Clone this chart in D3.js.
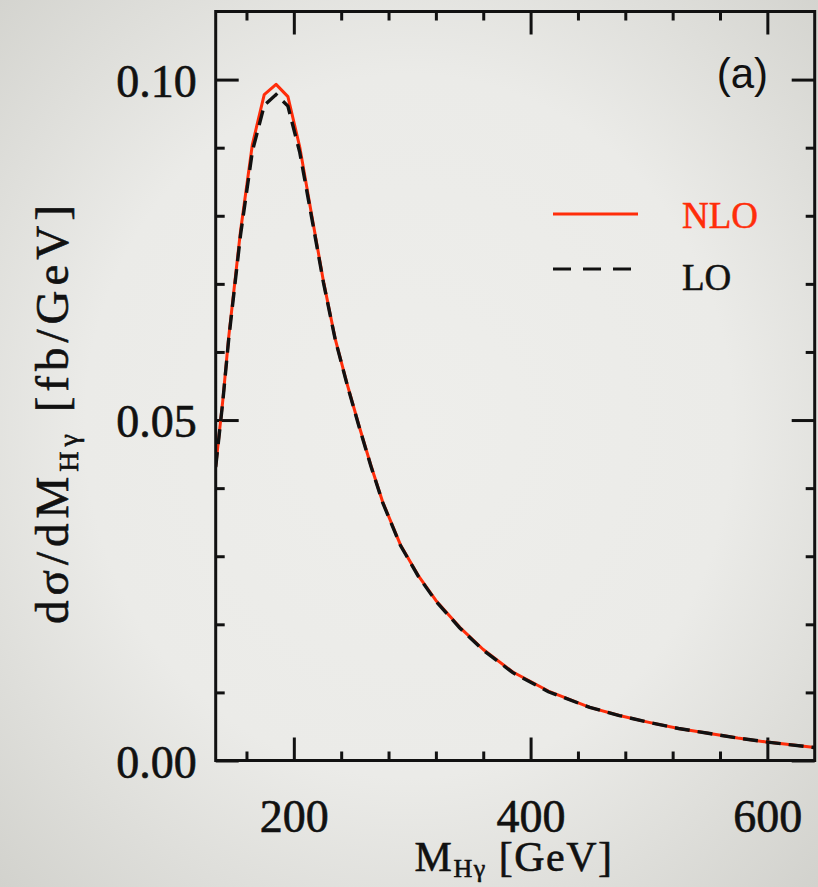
<!DOCTYPE html>
<html>
<head>
<meta charset="utf-8">
<script src="https://cdn.jsdelivr.net/npm/d3@7"></script>
<style>
  html, body { margin: 0; padding: 0; background: #e8e8e5; }
  svg { display: block; }
</style>
</head>
<body>
<svg id="chart" width="818" height="887"></svg>
<script>
// Invariant-mass distribution of the Higgs-photon system, NLO vs LO
const massGeV = [134, 140, 145, 155, 165, 175, 185, 195, 205, 215, 225, 235, 245, 255, 265, 275,
                 290, 305, 320, 340, 360, 385, 415, 450, 475, 500, 525, 550, 575, 600, 620, 640];
const nloXsec = [0.0432, 0.0529, 0.0622, 0.0778, 0.0905, 0.0978, 0.0993, 0.0975, 0.0901, 0.0802,
                 0.0704, 0.0619, 0.0553, 0.0492, 0.0434, 0.0380, 0.0317, 0.0272, 0.0235, 0.0196,
                 0.0163, 0.0130, 0.0102, 0.0078, 0.0066, 0.0056, 0.0047, 0.0040, 0.0033, 0.0027,
                 0.0023, 0.0019];
const loXsec  = [0.0431, 0.0527, 0.0619, 0.0772, 0.0895, 0.0962, 0.0978, 0.0961, 0.0893, 0.0798,
                 0.0702, 0.0618, 0.0552, 0.0491, 0.0433, 0.0379, 0.0316, 0.0271, 0.0234, 0.0195,
                 0.0162, 0.0129, 0.0101, 0.0078, 0.0066, 0.0056, 0.0047, 0.0040, 0.0033, 0.0027,
                 0.0023, 0.0019];
const xTickLabels = [200, 400, 600];
const yTickLabels = [0.00, 0.05, 0.10];
const seriesNames = ["NLO", "LO"];

const RED = "#ff2d0a";
const INK = "#111";

const svg = d3.select("#chart");

// paper background with a soft vignette
const defs = svg.append("defs");
const grad = defs.append("radialGradient").attr("id", "paper")
  .attr("cx", "50%").attr("cy", "48%").attr("r", "72%");
grad.append("stop").attr("offset", "0%").attr("stop-color", "#eeeeeb");
grad.append("stop").attr("offset", "55%").attr("stop-color", "#ebebe8");
grad.append("stop").attr("offset", "100%").attr("stop-color", "#d2d2cd");
svg.append("rect").attr("width", 818).attr("height", 887).attr("fill", "url(#paper)");

const frame = { left: 215.7, right: 814.7, top: 11.5, bottom: 760.5 };

const x = d3.scaleLinear().domain([134, 640]).range([frame.left, frame.right]);
const y = d3.scaleLinear().domain([0, 0.11]).range([frame.bottom, frame.top]);

defs.append("clipPath").attr("id", "plotArea").append("rect")
  .attr("x", frame.left).attr("y", frame.top)
  .attr("width", frame.right - frame.left).attr("height", frame.bottom - frame.top);

const FONT = "'Liberation Serif', 'Times New Roman', serif";
const MAJOR = 23, MINOR = 9;

const xMinor = d3.range(160, 640, 40).filter(v => !xTickLabels.includes(v));
const yMinor = d3.range(1, 11).map(i => i / 100).filter(v => Math.abs(v - 0.05) > 1e-9 && Math.abs(v - 0.10) > 1e-9);

function styleAxis(g) {
  g.select(".domain").remove();
  g.selectAll(".tick line").attr("stroke", INK).attr("stroke-width", 3);
  g.selectAll(".tick text")
    .attr("fill", INK).attr("stroke", INK).attr("stroke-width", 0.6)
    .style("font-family", FONT).style("font-size", "46px");
}

// bottom axis with labels
svg.append("g").attr("transform", `translate(0,${frame.bottom})`)
  .call(d3.axisBottom(x).tickValues(xTickLabels).tickSize(-MAJOR).tickPadding(39).tickFormat(d3.format("d")))
  .call(styleAxis);
svg.append("g").attr("transform", `translate(0,${frame.bottom})`)
  .call(d3.axisBottom(x).tickValues(xMinor).tickSize(-MINOR).tickFormat(""))
  .call(styleAxis);
// top axis, ticks only
svg.append("g").attr("transform", `translate(0,${frame.top})`)
  .call(d3.axisTop(x).tickValues(xTickLabels).tickSize(-MAJOR).tickFormat(""))
  .call(styleAxis);
svg.append("g").attr("transform", `translate(0,${frame.top})`)
  .call(d3.axisTop(x).tickValues(xMinor).tickSize(-MINOR).tickFormat(""))
  .call(styleAxis);
// left axis with labels
svg.append("g").attr("transform", `translate(${frame.left},0)`)
  .call(d3.axisLeft(y).tickValues(yTickLabels).tickSize(-MAJOR).tickPadding(19).tickFormat(d3.format(".2f")))
  .call(styleAxis)
  .call(g => g.selectAll(".tick text").attr("dy", "0.36em"));
svg.append("g").attr("transform", `translate(${frame.left},0)`)
  .call(d3.axisLeft(y).tickValues(yMinor).tickSize(-MINOR).tickFormat(""))
  .call(styleAxis);
// right axis, ticks only
svg.append("g").attr("transform", `translate(${frame.right},0)`)
  .call(d3.axisRight(y).tickValues(yTickLabels).tickSize(-MAJOR).tickFormat(""))
  .call(styleAxis);
svg.append("g").attr("transform", `translate(${frame.right},0)`)
  .call(d3.axisRight(y).tickValues(yMinor).tickSize(-MINOR).tickFormat(""))
  .call(styleAxis);

// curves
const line = d3.line().x(d => x(d[0])).y(d => y(d[1]));
const nloPts = massGeV.map((m, i) => [m, nloXsec[i]]);
const loPts = massGeV.map((m, i) => [m, loXsec[i]]);

const curves = svg.append("g").attr("clip-path", "url(#plotArea)");
curves.append("path").datum(nloPts).attr("d", line)
  .attr("fill", "none").attr("stroke", RED).attr("stroke-width", 3).attr("stroke-linejoin", "round");
curves.append("path").datum(loPts).attr("d", line)
  .attr("fill", "none").attr("stroke", INK).attr("stroke-width", 3.4)
  .attr("stroke-dasharray", "15,8");

// frame
svg.append("rect")
  .attr("x", frame.left).attr("y", frame.top)
  .attr("width", frame.right - frame.left).attr("height", frame.bottom - frame.top)
  .attr("fill", "none").attr("stroke", INK).attr("stroke-width", 3);

// legend
const legend = svg.append("g");
legend.append("line").attr("x1", 553).attr("x2", 638).attr("y1", 214).attr("y2", 214)
  .attr("stroke", RED).attr("stroke-width", 3);
legend.append("text").attr("x", 682).attr("y", 228).text(seriesNames[0])
  .attr("fill", RED).attr("stroke", RED).attr("stroke-width", 0.5)
  .style("font-family", FONT).style("font-size", "37px");
legend.append("line").attr("x1", 553).attr("x2", 638).attr("y1", 269).attr("y2", 269)
  .attr("stroke", INK).attr("stroke-width", 3).attr("stroke-dasharray", "18,12");
legend.append("text").attr("x", 682).attr("y", 290).text(seriesNames[1])
  .attr("fill", INK).attr("stroke", INK).attr("stroke-width", 0.5)
  .style("font-family", FONT).style("font-size", "37px");

// panel tag
svg.append("text").attr("x", 768).attr("y", 88).attr("text-anchor", "end")
  .text("(a)").attr("fill", INK)
  .style("font-family", "'Liberation Sans', Arial, sans-serif").style("font-size", "42px");

// axis titles
const xTitle = svg.append("text").attr("x", 514).attr("y", 871)
  .attr("text-anchor", "middle").attr("fill", INK).attr("stroke", INK).attr("stroke-width", 0.6)
  .style("font-family", FONT).style("font-size", "42px").style("letter-spacing", "1.5px");
xTitle.append("tspan").text("M");
xTitle.append("tspan").attr("dy", 6).style("font-size", "26px").text("Hγ");
xTitle.append("tspan").attr("dy", -6).text(" [GeV]");

const yTitle = svg.append("text")
  .attr("transform", `translate(68,412) rotate(-90)`)
  .attr("text-anchor", "middle").attr("fill", INK).attr("stroke", INK).attr("stroke-width", 0.6)
  .style("font-family", FONT).style("font-size", "47px").style("letter-spacing", "5px");
yTitle.append("tspan").text("dσ/dM");
yTitle.append("tspan").attr("dy", 10).style("font-size", "28px").text("Hγ");
yTitle.append("tspan").attr("dy", -10).text(" [fb/GeV]");
</script>
</body>
</html>
